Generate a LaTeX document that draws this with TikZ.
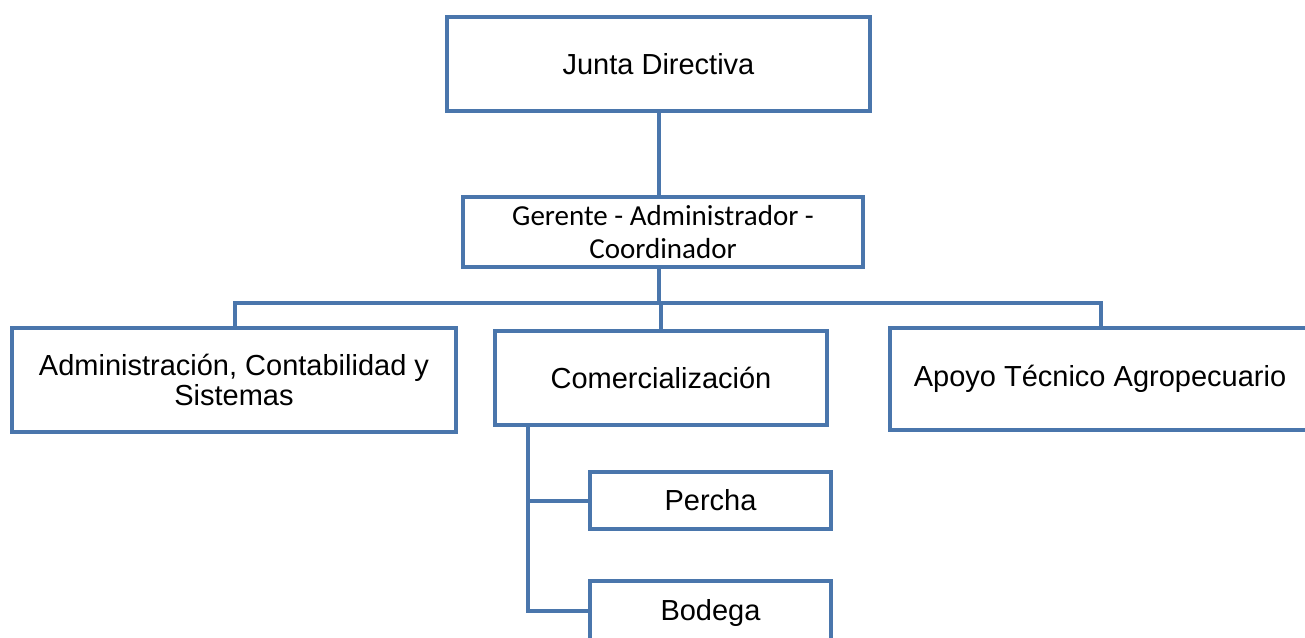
\documentclass[tikz,border=0pt]{standalone}
\usepackage{fontspec}
\setmainfont{Liberation Sans}
\newfontfamily\calfont{Carlito}
\definecolor{orgblue}{RGB}{74,118,172}
\tikzset{
  orgbox/.style={draw=orgblue, line width=2pt, rectangle, inner sep=0pt, align=center,
    font=\fontsize{14.5}{15}\selectfont, text=black},
  orgline/.style={draw=orgblue, line width=2pt}
}
\begin{document}
\begin{tikzpicture}[x=0.5pt, y=-0.5pt]
\useasboundingbox (0,0) rectangle (1305,637);
\clip (0,0) rectangle (1305,637);
\node[orgbox, minimum width=211.5pt, minimum height=47pt] (J) at (658.5,64) {Junta Directiva};
\node[orgbox, minimum width=200pt, minimum height=35pt, font=\calfont\fontsize{14.5}{16.5}\selectfont] (G) at (663,232) {Gerente - Administrador -\\Coordinador};
\node[orgbox, minimum width=222pt, minimum height=52pt] (A) at (234,380) {Administración, Contabilidad y\\Sistemas};
\node[orgbox, minimum width=166pt, minimum height=47pt] (C) at (661,378) {Comercialización};
\node[orgbox, minimum width=210pt, minimum height=51pt] (T) at (1100,379) {Apoyo Técnico Agropecuario};
\node[orgbox, minimum width=120.5pt, minimum height=28.5pt] (P) at (710.5,500.5) {Percha};
\node[orgbox, minimum width=120.5pt, minimum height=32pt] (B) at (710.5,613) {Bodega};
\coordinate (busL) at (235,303);
\coordinate (busR) at (1101,303);
\coordinate (sx) at (528,0);
\coordinate (bj) at (528,611);
\draw[orgline] (J.south) -- (J.south |- G.north);
\draw[orgline] (J.south |- G.south) -- (J.south |- busL);
\draw[orgline] (busL |- A.north) -- (busL) -- (busR) -- (busR |- T.north);
\draw[orgline] (C.north) -- (C.north |- busL);
\draw[orgline] (sx |- C.south) -- (bj) -- (bj -| B.west);
\draw[orgline] (sx |- P.west) -- (P.west);
\end{tikzpicture}
\end{document}
